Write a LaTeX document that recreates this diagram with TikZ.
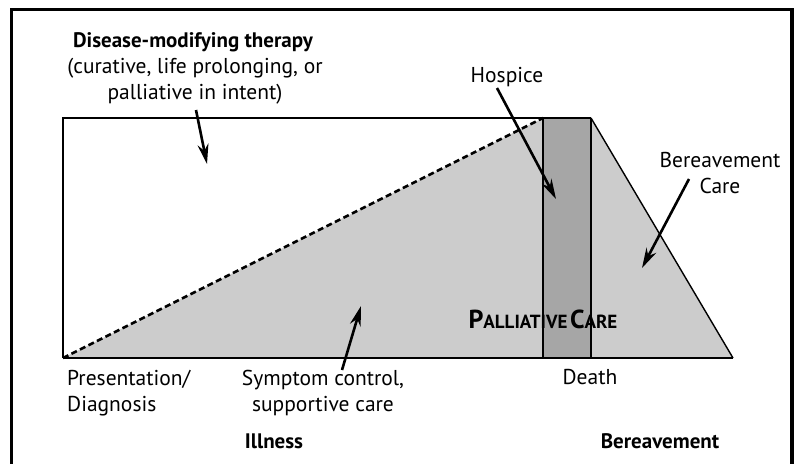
\documentclass[tikz,border=0pt]{standalone}
\usepackage{fontspec}
\setmainfont{PT Sans}
\usetikzlibrary{arrows.meta}
\definecolor{lightfill}{RGB}{204,204,204}
\definecolor{darkfill}{RGB}{166,166,166}
\tikzset{
  lbl/.style={font=\fontsize{21.5}{26.5}\selectfont, inner sep=0pt, align=center},
  boldlbl/.style={lbl, font=\fontsize{21}{26}\selectfont\bfseries},
  pointer/.style={line width=2.6pt, -{Stealth[length=20pt,width=11pt]}},
  outline/.style={line width=2pt, line join=miter},
}
\begin{document}
\begin{tikzpicture}[x=1pt,y=-1pt]
\useasboundingbox (0,0) rectangle (800,463);
% outer frame
\draw[line width=3.5pt] (11.5,480) -- (11.5,9.5) -- (792,9.5) -- (792,480);
% key points
\coordinate (O) at (63,358);
\coordinate (TL) at (63,118);
\coordinate (HL) at (543,118);
\coordinate (HR) at (591,118);
\coordinate (HLB) at (543,358);
\coordinate (HRB) at (591,358);
\coordinate (E) at (733,358);
% fills
\fill[lightfill] (O) -- (HL) -- (HLB) -- cycle;
\fill[darkfill] (HL) rectangle (HRB);
\fill[lightfill] (HR) -- (E) -- (HRB) -- cycle;
% outlines
\draw[outline] (O) -- (TL) -- (HR);
\draw[outline] (O) -- (E);
\draw[outline] (HL) -- (HLB);
\draw[outline] (HR) -- (HRB);
\draw[line width=1.4pt] (HR) -- (E);
\draw[line width=2.6pt, dash pattern=on 6pt off 3.5pt] (O) -- (HL);
% texts
\node[boldlbl] (dmt) at (193,42) {Disease-modifying therapy};
\node[lbl] (dmt2) at (195,81) {(curative, life prolonging, or\\palliative in intent)};
\node[lbl] (hosp) at (507,77) {Hospice};
\node[lbl] (bc) at (720,173) {Bereavement\\Care};
\node[inner sep=0pt, font=\bfseries] (pc) at (543,319) {{\fontsize{26}{28}\selectfont P}{\fontsize{19}{21}\selectfont ALLIATIVE} {\fontsize{26}{28}\selectfont C}{\fontsize{19}{21}\selectfont ARE}};
\node[lbl, align=left, anchor=west] (pd) at (67,393) {Presentation/\\Diagnosis};
\node[lbl] (sc) at (323,393) {Symptom control,\\supportive care};
\node[lbl] (death) at (590,377) {Death};
\node[boldlbl] (ill) at (274,441) {Illness};
\node[boldlbl] (ber) at (660,441) {Bereavement};
% arrows
\coordinate (a1) at (196,110);
\coordinate (a1h) at (207,164);
\coordinate (a2) at (497,88);
\coordinate (a2h) at (556,199);
\coordinate (a3) at (689,179);
\coordinate (a3h) at (642,268);
\coordinate (a4) at (342,370);
\coordinate (a4h) at (361,306);
\draw[pointer] (a1) -- (a1h);
\draw[pointer] (a2) -- (a2h);
\draw[pointer] (a3) -- (a3h);
\draw[pointer] (a4) -- (a4h);
\end{tikzpicture}
\end{document}
